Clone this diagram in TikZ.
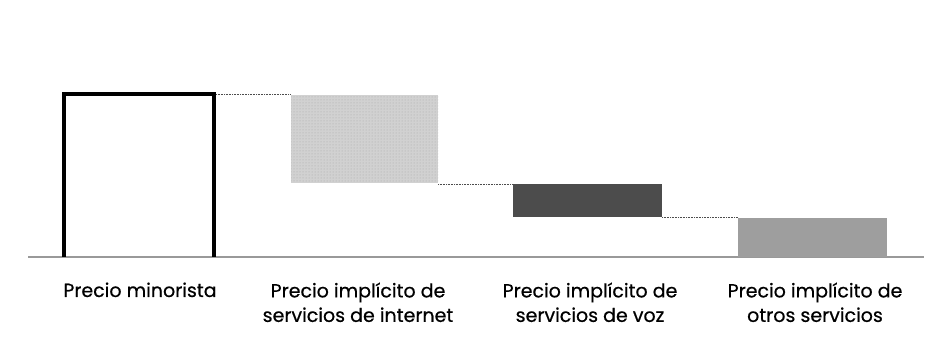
\documentclass[tikz,border=0pt]{standalone}
\usepackage{fontspec}
\setmainfont{Poppins}
\newfontfamily\lblfont{Poppins}[FakeBold=0.6]
\usepackage{tikz}
\usetikzlibrary{calc,patterns}

\tikzset{
	guide/.style={black!70,densely dotted,line width=0.6pt},
	barlabel/.style={align=center,font=\lblfont\fontsize{19}{24.5}\selectfont,anchor=north}
}

\begin{document}
\begin{tikzpicture}[x=1pt,y=-1pt]

\useasboundingbox (0,0) rectangle (931,358);

% baseline
\draw[black!40,line width=2.5pt] (28,257) -- (924,257);

% bars
\draw[line width=3.5pt] (64,257) -- (64,94) -- (214,94) -- (214,257);%retail
\fill[black!18] (291,95) rectangle (438,183);%internet
\fill[pattern=dots,pattern color=black!35] (291,95) rectangle (438,183);
\fill[black!70] (513,184) rectangle (662,217);%voice
\fill[black!38] (738,218) rectangle (887,257);%other

% guides
\coordinate (g1a) at (216,94);
\coordinate (g1b) at (291,94);
\coordinate (g2a) at (438,184);
\coordinate (g2b) at (513,184);
\coordinate (g3a) at (662,217);
\coordinate (g3b) at (738,217);
\draw[guide] (g1a) -- (g1b);
\draw[guide] (g2a) -- (g2b);
\draw[guide] (g3a) -- (g3b);

% labels
\node[barlabel] (l1) at (140,279) {Precio minorista};
\node[barlabel] (l2) at (358,279) {Precio implícito de\\servicios de internet};
\node[barlabel] (l3) at (590,279) {Precio implícito de\\servicios de voz};
\node[barlabel] (l4) at (815,279) {Precio implícito de\\otros servicios};

\end{tikzpicture}
\end{document}
